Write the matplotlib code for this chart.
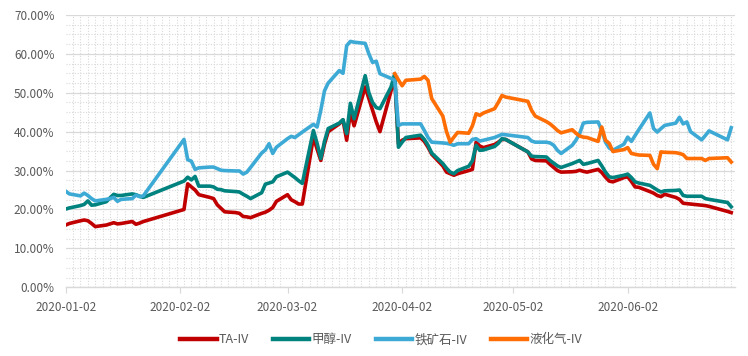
import matplotlib
matplotlib.use("Agg")
import matplotlib.pyplot as plt
from matplotlib.ticker import MultipleLocator, FuncFormatter
import pandas as pd

plt.rcParams['font.family'] = ['Noto Sans CJK SC', 'DejaVu Sans']

# trading days 2020 (day of month, per month)
jan = [2, 3, 6, 7, 8, 9, 10, 13, 14, 15, 16, 17, 20, 21, 22, 23]
feb = [3, 4, 5, 6, 7, 10, 11, 12, 13, 14, 17, 18, 19, 20, 21, 24, 25, 26, 27, 28]
mar = [2, 3, 4, 5, 6, 9, 10, 11, 12, 13, 16, 17, 18, 19, 20, 23, 24, 25, 26, 27, 30, 31]
apr = [1, 2, 3, 7, 8, 9, 10, 13, 14, 15, 16, 17, 20, 21, 22, 23, 24, 27, 28, 29, 30]
may = [6, 7, 8, 11, 12, 13, 14, 15, 18, 19, 20, 21, 22, 25, 26, 27, 28, 29]
jun = [1, 2, 3, 4, 5, 8, 9, 10, 11, 12, 15, 16, 17, 18, 19, 22, 23, 24, 29, 30]

# TA-IV (%)
ta_iv = [16.0, 16.4, 17.1, 17.3, 17.1, 16.4, 15.6, 16.0, 16.3, 16.6, 16.3, 16.4, 16.9, 16.2, 16.5, 16.9,
         20.0, 26.6, 25.8, 25.0, 23.8, 23.1, 22.8, 21.2, 20.3, 19.4, 19.2, 19.0, 18.2, 18.1, 17.9, 19.0, 19.3, 19.8, 20.5, 22.1,
         23.8, 22.5, 22.0, 21.4, 21.4, 38.6, 35.5, 32.6, 36.8, 40.0, 42.0, 43.0, 37.8, 45.0, 41.5, 51.5, 48.5, 45.5, 42.5, 40.0, 50.5, 53.5,
         36.9, 37.8, 38.2, 38.4, 37.5, 36.0, 34.2, 31.2, 29.6, 29.2, 28.8, 29.2, 30.0, 30.3, 37.3, 36.3, 35.9, 36.7, 37.3, 38.0, 38.0,
         34.8, 33.0, 32.6, 32.5, 31.6, 30.8, 30.0, 29.6, 29.7, 29.8, 30.1, 29.8, 29.6, 30.3, 29.5, 28.3, 27.3, 27.1,
         28.2, 28.4, 27.2, 25.8, 25.7, 24.6, 24.2, 23.6, 23.3, 23.9, 23.1, 22.6, 21.6, 21.5, 21.4, 21.1, 21.0, 20.8, 19.5, 19.2]

# 甲醇-IV (%)
meoh_iv = [20.1, 20.4, 21.0, 21.3, 22.2, 21.1, 21.2, 22.0, 23.0, 23.9, 23.6, 23.6, 24.0, 23.8, 23.4, 23.1,
           27.3, 28.3, 27.6, 28.5, 26.0, 26.0, 25.8, 25.2, 25.1, 24.8, 24.6, 24.5, 23.9, 23.4, 22.8, 24.3, 26.5, 26.8, 27.1, 28.4,
           29.6, 28.9, 28.2, 27.4, 26.7, 40.3, 37.0, 33.1, 37.5, 40.8, 42.2, 43.1, 39.5, 47.3, 43.3, 54.4, 50.0, 47.5, 46.2, 45.9, 51.5, 54.9,
           36.0, 37.3, 38.5, 39.1, 38.0, 36.5, 34.5, 31.8, 30.6, 29.6, 29.2, 30.0, 31.1, 32.5, 36.5, 35.2, 35.3, 36.2, 37.0, 38.2, 38.0,
           34.8, 33.7, 33.6, 33.5, 32.6, 31.9, 31.2, 30.8, 31.8, 32.2, 32.6, 31.6, 31.8, 32.6, 31.2, 29.6, 28.4, 28.2,
           28.8, 29.1, 28.2, 27.1, 26.8, 26.2, 25.6, 25.0, 24.5, 24.8, 24.9, 25.0, 23.6, 23.4, 23.4, 23.4, 22.8, 22.6, 21.8, 20.7]

# 铁矿石-IV (%)
ore_iv = [24.7, 24.0, 23.5, 24.2, 23.6, 22.8, 22.2, 22.6, 22.8, 23.1, 22.1, 22.6, 22.8, 23.7, 23.3, 23.5,
          38.0, 32.8, 32.4, 30.3, 30.7, 30.9, 30.9, 30.5, 30.1, 30.0, 29.9, 29.9, 29.1, 29.6, 30.8, 34.5, 35.3, 36.9, 34.4, 36.0,
          38.2, 38.8, 38.5, 39.2, 39.9, 41.9, 41.2, 45.5, 50.5, 52.5, 55.7, 55.0, 62.1, 63.2, 63.0, 62.7, 60.0, 57.8, 58.1, 54.9, 53.7, 53.2,
          41.6, 42.0, 42.0, 42.0, 40.3, 38.5, 37.3, 37.1, 37.0, 36.8, 36.5, 36.9, 36.9, 38.0, 38.2, 37.6, 37.8, 38.5, 38.9, 39.3, 39.2,
          38.5, 37.6, 37.3, 37.3, 37.1, 36.5, 35.2, 34.4, 36.5, 37.8, 39.5, 42.2, 42.4, 42.5, 40.3, 37.3, 35.8, 35.2,
          36.8, 38.6, 37.5, 39.0, 40.5, 44.8, 40.8, 39.9, 40.8, 41.6, 42.2, 43.7, 42.0, 42.5, 40.0, 37.9, 39.0, 40.2, 37.9, 41.0]

# 液化气-IV (%) from 2020-03-31
lpg_iv = [54.9,
          53.3, 51.8, 53.2, 53.5, 54.2, 53.2, 48.5, 44.0, 40.0, 37.3, 38.6, 39.8, 39.6, 41.5, 44.6, 44.2, 44.8, 45.9, 47.5, 49.3, 48.9,
          47.8, 45.5, 44.0, 42.6, 42.0, 41.2, 40.3, 39.7, 40.5, 39.6, 38.9, 38.6, 38.5, 37.5, 41.2, 37.8, 37.0, 34.9,
          35.4, 35.9, 34.4, 34.2, 34.0, 33.9, 31.6, 30.5, 34.8, 34.7, 34.6, 34.4, 34.1, 33.1, 33.1, 33.1, 32.6, 33.1, 33.3, 32.2]

series = [("TA-IV", ta_iv, "#C00000"),
          ("甲醇-IV", meoh_iv, "#00827F"),
          ("铁矿石-IV", ore_iv, "#3DAAD6"),
          ("液化气-IV", lpg_iv, "#FF6D05")]

month_days = [jan, feb, mar, apr, may, jun]
dates = pd.to_datetime([f"2020-{m + 1:02d}-{d:02d}" for m, days in enumerate(month_days) for d in days])
tick_labels = ["2020-01-02", "2020-02-02", "2020-03-02", "2020-04-02", "2020-05-02", "2020-06-02"]

fig = plt.figure(figsize=(7.48, 3.56), dpi=100)
ax = fig.add_axes([0.0878, 0.193, 0.8947, 0.765])

for name, vals, col in series:
    x = dates[-len(vals):]
    ax.plot(x, vals, color=col, lw=2.6, label=name, solid_joinstyle='round')

ax.set_ylim(0, 70)
ax.set_xlim(pd.Timestamp("2020-01-02"), pd.Timestamp("2020-07-01"))
ax.yaxis.set_major_locator(MultipleLocator(10))
ax.yaxis.set_minor_locator(MultipleLocator(2.5))
ax.yaxis.set_major_formatter(FuncFormatter(lambda v, p: f"{v:.2f}%"))

ticks = pd.to_datetime(tick_labels)
ax.set_xticks(ticks)
ax.set_xticklabels(tick_labels)
ax.xaxis.set_minor_locator(MultipleLocator(2, offset=1))

ax.grid(which='major', axis='y', color='#D9D9D9', lw=0.9)
ax.grid(which='minor', axis='y', color='#D9D9D9', lw=0.8, ls=(0, (1, 1.5)))
ax.grid(which='minor', axis='x', color='#D9D9D9', lw=0.8, ls=(0, (1, 1.5)))
ax.set_axisbelow(True)

for s in ['top', 'right', 'left']:
    ax.spines[s].set_visible(False)
ax.spines['bottom'].set_color('#D9D9D9')
ax.spines['bottom'].set_linewidth(1)

ax.tick_params(axis='y', which='both', length=0, pad=8, labelsize=8.5, labelcolor='#595959')
ax.tick_params(axis='x', which='major', length=4, color='#D9D9D9', pad=6, labelsize=8.5, labelcolor='#595959')
ax.tick_params(axis='x', which='minor', length=0)

leg = fig.legend(loc='center', bbox_to_anchor=(0.51, 0.045), ncol=4, frameon=False,
                 fontsize=9, handlelength=2.9, handletextpad=0.2, columnspacing=1.9,
                 labelcolor='#595959')
for h in leg.get_lines():
    h.set_linewidth(3.2)

fig.savefig("out.png", dpi=100)
